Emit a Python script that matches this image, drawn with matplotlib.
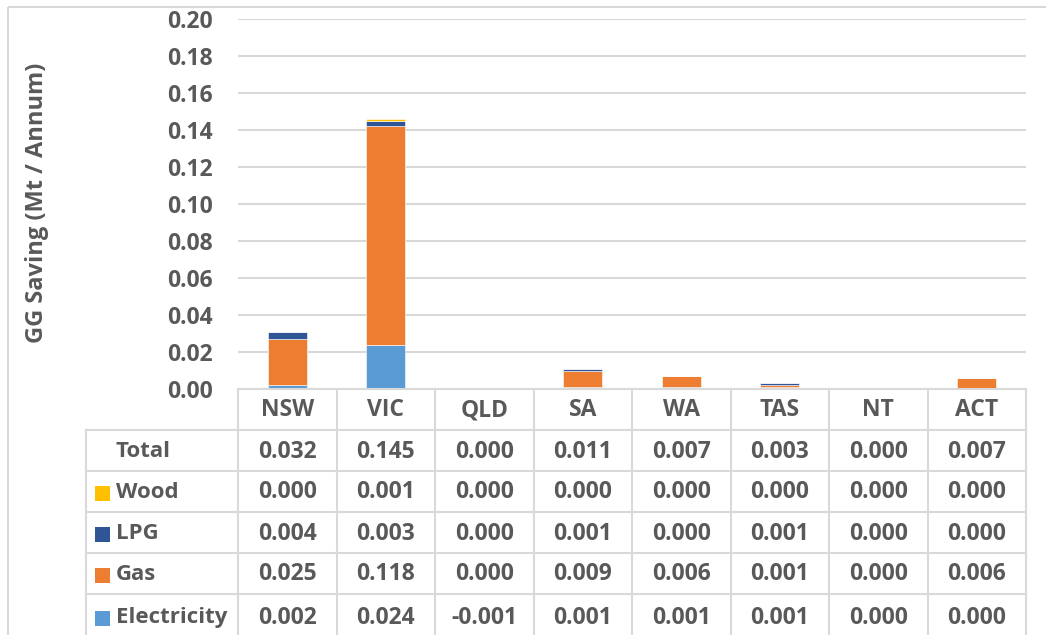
import matplotlib
matplotlib.use("Agg")
import matplotlib.pyplot as plt
import matplotlib.transforms as mtransforms
from matplotlib.lines import Line2D
from matplotlib.patches import Rectangle
import numpy as np

plt.rcParams['font.family'] = ['Open Sans', 'DejaVu Sans']

states = ["NSW", "VIC", "QLD", "SA", "WA", "TAS", "NT", "ACT"]
electricity = [0.002, 0.024, -0.001, 0.001, 0.001, 0.001, 0.000, 0.000]
gas = [0.025, 0.118, 0.000, 0.009, 0.006, 0.001, 0.000, 0.006]
lpg = [0.004, 0.003, 0.000, 0.001, 0.000, 0.001, 0.000, 0.000]
wood = [0.000, 0.001, 0.000, 0.000, 0.000, 0.000, 0.000, 0.000]
total = [0.032, 0.145, 0.000, 0.011, 0.007, 0.003, 0.000, 0.007]
y_ticks = [0.00, 0.02, 0.04, 0.06, 0.08, 0.10, 0.12, 0.14, 0.16, 0.18, 0.20]

series = [("Electricity", electricity, "#5B9BD5"),
          ("Gas", gas, "#ED7D31"),
          ("LPG", lpg, "#2F5597"),
          ("Wood", wood, "#FFC000")]

W, H = 1046, 635
TEXT = "#595959"
GRID = "#D9D9D9"
FS = 16.5
fig = plt.figure(figsize=(W / 100, H / 100), dpi=100)

# plot area in pixel coordinates
px_left, px_right, px_top, px_bottom = 238, 1026, 19, 389
ax = fig.add_axes([px_left / W, 1 - px_bottom / H,
                   (px_right - px_left) / W, (px_bottom - px_top) / H])

x = np.arange(len(states))
pos_base = np.zeros(len(states))
neg_base = np.zeros(len(states))
for name, vals, color in series:
    v = np.array(vals)
    base = np.where(v >= 0, pos_base, neg_base)
    ax.bar(x, v, 0.4, bottom=base, color=color, edgecolor="white",
           linewidth=0.4, zorder=3)
    pos_base = pos_base + np.where(v > 0, v, 0)
    neg_base = neg_base + np.where(v < 0, v, 0)

ax.set_xlim(-0.5, len(states) - 0.5)
ax.set_ylim(0, 0.2)
ax.set_yticks(y_ticks)
ax.set_yticklabels([f"{t:.2f}" for t in y_ticks])
ax.tick_params(axis="y", length=0, pad=18, labelsize=FS, labelcolor=TEXT)
for lbl in ax.get_yticklabels():
    lbl.set_fontweight("bold")
ax.set_xticks([])
for s in ax.spines.values():
    s.set_visible(False)
ax.grid(axis="y", color=GRID, linewidth=1.5, zorder=0)
ax.set_axisbelow(True)

# overlay in pixel coordinates for the data table and frame
over = fig.add_axes([0, 0, 1, 1], zorder=-1)
over.set_xlim(0, W)
over.set_ylim(H, 0)
over.axis("off")

over.add_patch(Rectangle((7.5, 7), W + 10, H + 10, fill=False,
                         edgecolor=GRID, linewidth=1.5))

fig.text(37 / W, 1 - 203 / H, "GG Saving (Mt / Annum)", rotation=90,
         ha="center", va="center", fontsize=17, fontweight="bold",
         color=TEXT)

top_ov = fig.add_axes([0, 0, 1, 1], zorder=5)
top_ov.set_xlim(0, W)
top_ov.set_ylim(H, 0)
top_ov.axis("off")
blend = mtransforms.blended_transform_factory(ax.transData, top_ov.transData)

row_edges = [389, 430, 471, 512, 553, 594, 640]
label_left = 86
lw = 1.5
# horizontal lines
top_ov.add_line(Line2D([px_left, px_right], [389, 389], color=GRID, lw=lw))
for yv in row_edges[1:-1]:
    top_ov.add_line(Line2D([label_left, px_right], [yv, yv], color=GRID, lw=lw))
# vertical lines
top_ov.add_line(Line2D([label_left, label_left], [430, H], color=GRID, lw=lw))
for i in range(len(states) + 1):
    top_ov.plot([i - 0.5, i - 0.5], [389, H], color=GRID, lw=lw,
                transform=blend, clip_on=False)

def mid(r):
    return (row_edges[r] + row_edges[r + 1]) / 2 + 1

for i, st in enumerate(states):
    top_ov.text(i, mid(0), st, transform=blend, ha="center", va="center",
                fontsize=FS, fontweight="bold", color=TEXT)

rows = [("Total", total, None), ("Wood", wood, "#FFC000"),
        ("LPG", lpg, "#2F5597"), ("Gas", gas, "#ED7D31"),
        ("Electricity", electricity, "#5B9BD5")]
for r, (name, vals, color) in enumerate(rows, start=1):
    ym = mid(r)
    if color is not None:
        top_ov.add_patch(Rectangle((95, ym - 7), 15, 15, facecolor=color,
                                   edgecolor="none"))
    top_ov.text(116, ym, name, ha="left", va="center", fontsize=16,
                fontweight="bold", color=TEXT)
    for i, v in enumerate(vals):
        top_ov.text(i, ym, f"{v:.3f}", transform=blend, ha="center",
                    va="center", fontsize=FS, fontweight="bold", color=TEXT)

fig.savefig("out.png", dpi=100)
